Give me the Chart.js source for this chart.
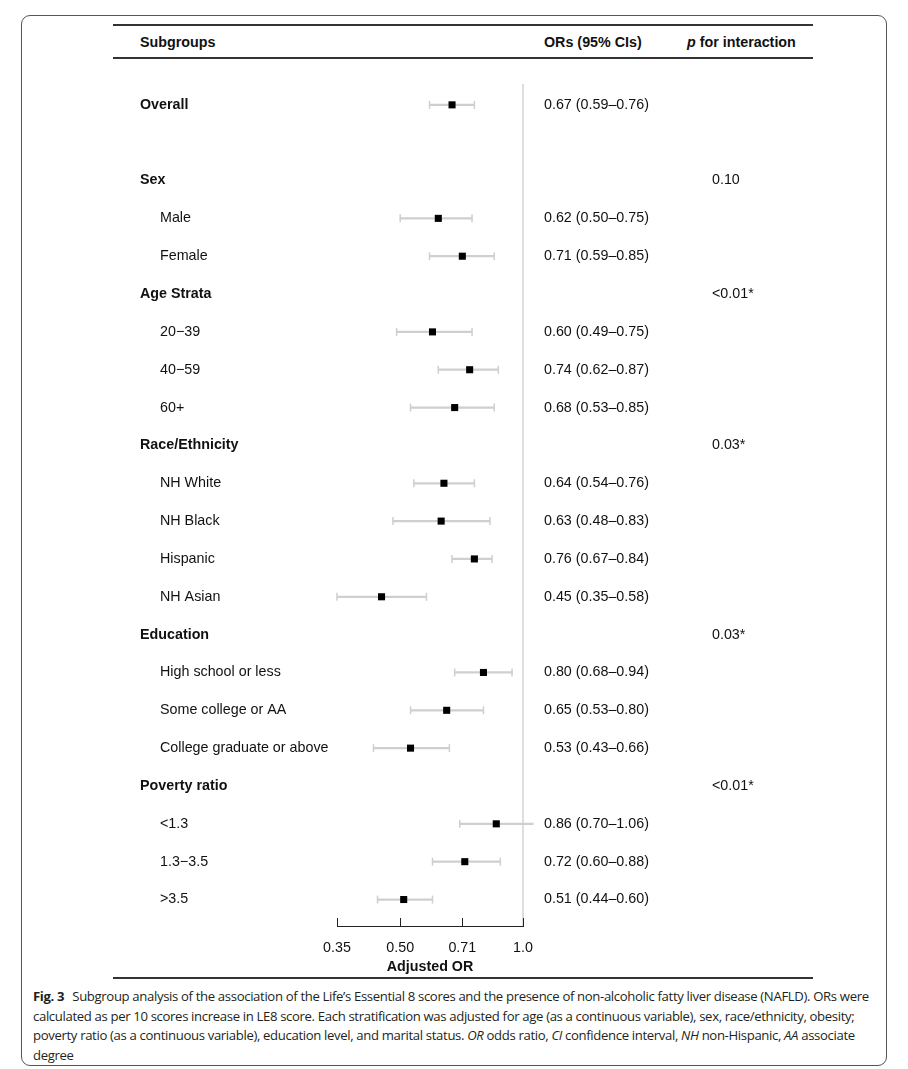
<!DOCTYPE html>
<html>
<head>
<meta charset="utf-8">
<script src="https://cdn.jsdelivr.net/npm/chart.js@4.4.0/dist/chart.umd.min.js"></script>
<style>
  body { margin: 0; background: #fff; width: 908px; height: 1069px; position: relative; overflow: hidden; }
  .frame { position: absolute; left: 21px; top: 15px; width: 864px; height: 1049px; border: 1px solid #555; border-radius: 9px; }
  .rule { position: absolute; left: 113px; width: 700px; background: #333; }
  .head { position: absolute; top: 34px; font: bold 14.3px "Liberation Sans", Arial, sans-serif; color: #111; white-space: nowrap; }
  .caption { position: absolute; left: 33px; top: 987px; font: 13.15px "Open Sans", sans-serif; line-height: 19.7px; color: #231f20; white-space: nowrap; letter-spacing: -0.35px; }
  .caption b { font-weight: bold; margin-right: 5px; }
  #wrap { position: absolute; left: 0; top: 0; width: 908px; height: 986px; }
</style>
</head>
<body>
<div class="frame"></div>
<div class="rule" style="top:24px;height:2px"></div>
<div class="rule" style="top:57px;height:1.5px"></div>
<div class="rule" style="top:977px;height:1.5px"></div>
<div class="head" style="left:140px">Subgroups</div>
<div class="head" style="left:544px">ORs (95% CIs)</div>
<div class="head" style="left:687px"><i>p</i> for interaction</div>
<div id="wrap"><canvas id="forest" width="908" height="986"></canvas></div>
<div class="caption"><b>Fig. 3</b> Subgroup analysis of the association of the Life’s Essential 8 scores and the presence of non-alcoholic fatty liver disease (NAFLD). ORs were<br>calculated as per 10 scores increase in LE8 score. Each stratification was adjusted for age (as a continuous variable), sex, race/ethnicity, obesity;<br>poverty ratio (as a continuous variable), education level, and marital status. <i>OR</i> odds ratio, <i>CI</i> confidence interval, <i>NH</i> non-Hispanic, <i>AA</i> associate<br>degree</div>

<script>
// rows of the table (row 0 and 2 are blank)
const rowLabels = ['Overall', 'Sex', 'Male', 'Female', 'Age Strata', '20−39', '40−59', '60+',
  'Race/Ethnicity', 'NH White', 'NH Black', 'Hispanic', 'NH Asian', 'Education',
  'High school or less', 'Some college or AA', 'College graduate or above',
  'Poverty ratio', '<1.3', '1.3−3.5', '>3.5'];
const rowPos = [1, 3, 4, 5, 6, 7, 8, 9, 10, 11, 12, 13, 14, 15, 16, 17, 18, 19, 20, 21, 22];
const isGroup = [true, true, false, false, true, false, false, false, true, false, false, false, false,
  true, false, false, false, true, false, false, false];
const orValues = [0.67, null, 0.62, 0.71, null, 0.60, 0.74, 0.68, null, 0.64, 0.63, 0.76, 0.45,
  null, 0.80, 0.65, 0.53, null, 0.86, 0.72, 0.51];
const ciLow = [0.59, null, 0.50, 0.59, null, 0.49, 0.62, 0.53, null, 0.54, 0.48, 0.67, 0.35,
  null, 0.68, 0.53, 0.43, null, 0.70, 0.60, 0.44];
const ciHigh = [0.76, null, 0.75, 0.85, null, 0.75, 0.87, 0.85, null, 0.76, 0.83, 0.84, 0.58,
  null, 0.94, 0.80, 0.66, null, 1.06, 0.88, 0.60];
const pInteraction = ['', '0.10', '', '', '<0.01*', '', '', '', '0.03*', '', '', '', '',
  '0.03*', '', '', '', '<0.01*', '', '', ''];
const tickVals = [0.35, 0.50, 0.71, 1.0];
const tickLabels = ['0.35', '0.50', '0.71', '1.0'];

const FONT = '"Liberation Sans", Arial, sans-serif';
const CI_GREY = '#cfcfcf';

const fmt = v => v.toFixed(2);

// build datasets from the arrays
const bars = [], lowCaps = [], highCaps = [], points = [];
rowPos.forEach((r, i) => {
  if (orValues[i] === null) return;
  bars.push({ x: [ciLow[i], ciHigh[i]], y: r });
  lowCaps.push({ x: ciLow[i], y: r });
  highCaps.push({ x: ciHigh[i], y: r });
  points.push({ x: orValues[i], y: r });
});

// text columns + upward axis ticks
const tablePlugin = {
  id: 'tableText',
  afterDraw(chart) {
    const ctx = chart.ctx;
    const x = chart.scales.x, y = chart.scales.y;
    ctx.save();
    ctx.fillStyle = '#111';
    ctx.textBaseline = 'middle';
    rowPos.forEach((r, i) => {
      const py = y.getPixelForValue(r);
      ctx.font = (isGroup[i] ? 'bold ' : '') + '14.3px ' + FONT;
      ctx.fillText(rowLabels[i], isGroup[i] ? 140 : 160, py);
      ctx.font = '14.3px ' + FONT;
      if (orValues[i] !== null) {
        ctx.fillText(fmt(orValues[i]) + ' (' + fmt(ciLow[i]) + '–' + fmt(ciHigh[i]) + ')', 544, py);
      }
      if (pInteraction[i]) ctx.fillText(pInteraction[i], 712, py);
    });
    // tick marks pointing up from the axis line
    const bottom = chart.chartArea.bottom;
    ctx.strokeStyle = '#222';
    ctx.lineWidth = 1;
    tickVals.forEach(v => {
      const px = Math.round(x.getPixelForValue(v)) + 0.5;
      ctx.beginPath();
      ctx.moveTo(px, bottom - 8);
      ctx.lineTo(px, bottom);
      ctx.stroke();
    });
    ctx.restore();
  }
};

new Chart(document.getElementById('forest'), {
  type: 'scatter',
  data: {
    datasets: [
      {
        // reference line at OR = 1
        data: [{ x: 1, y: 0.45 }, { x: 1, y: 22.7 }],
        showLine: true, borderColor: '#d4d4d4', borderWidth: 1.5, pointRadius: 0, order: 5, clip: false
      },
      {
        type: 'bar', indexAxis: 'y', data: bars,
        backgroundColor: CI_GREY, barThickness: 1.6, order: 4, clip: false
      },
      {
        data: lowCaps, pointStyle: 'line', rotation: 90, pointRadius: 4,
        borderColor: CI_GREY, borderWidth: 1.5, order: 3, clip: false
      },
      {
        data: highCaps, pointStyle: 'line', rotation: 90, pointRadius: 4,
        borderColor: CI_GREY, borderWidth: 1.5, order: 3, clip: false
      },
      {
        data: points, pointStyle: 'rect', pointRadius: 5,
        backgroundColor: '#000', borderColor: '#000', borderWidth: 0, order: 1, clip: false
      }
    ]
  },
  options: {
    responsive: false,
    animation: false,
    devicePixelRatio: 1,
    layout: { padding: { left: 337, right: 385, top: 67, bottom: 0 } },
    plugins: { legend: { display: false }, tooltip: { enabled: false } },
    scales: {
      x: {
        type: 'logarithmic', min: 0.35, max: 1.0, bounds: 'data',
        afterBuildTicks: s => { s.ticks = tickVals.map(v => ({ value: v })); },
        afterFit: s => { s.height = 60; },
        grid: { display: false },
        border: { display: true, color: '#222', width: 1 },
        ticks: {
          callback: (v, i) => tickLabels[i],
          font: { family: FONT, size: 14.3 }, color: '#111',
          padding: 5, maxRotation: 0, autoSkip: false
        },
        title: {
          display: true, text: 'Adjusted OR', color: '#111',
          font: { family: FONT, size: 14.3, weight: 'bold' },
          padding: { top: 0, bottom: 10 }
        }
      },
      y: { type: 'linear', display: false, min: 0, max: 22.7, reverse: true, offset: false }
    }
  },
  plugins: [tablePlugin]
});
</script>
</body>
</html>
